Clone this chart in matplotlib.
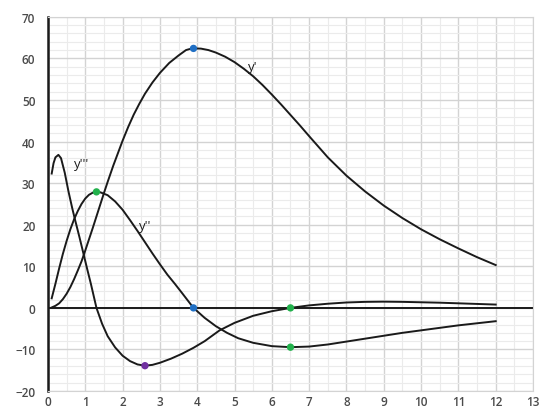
import matplotlib.pyplot as plt
from matplotlib.ticker import MultipleLocator

# values
x1 = [0.1, 0.2, 0.3, 0.4, 0.5, 0.6, 0.7, 0.8, 0.9, 1.0, 1.1, 1.2, 1.3, 1.4,
      1.5, 1.6, 1.75, 1.9, 2.0, 2.15, 2.3, 2.45, 2.6, 2.8, 3.0, 3.25, 3.5,
      3.7, 3.8, 3.9, 4.1, 4.3, 4.5, 4.75, 5.0, 5.25, 5.5, 5.75, 6.0, 6.25,
      6.5, 6.75, 7.0, 7.5, 8.0, 8.5, 9.0, 9.5, 10.0, 10.5, 11.0, 11.5, 12.0]
y1 = [0.1, 0.5, 1.1, 2.1, 3.4, 5.0, 6.9, 9.0, 11.2, 13.8, 16.5, 19.2, 22.0,
      24.8, 27.6, 30.3, 34.2, 37.8, 40.2, 43.5, 46.5, 49.1, 51.5, 54.2, 56.5,
      58.9, 60.7, 62.0, 62.25, 62.4, 62.35, 62.0, 61.4, 60.4, 59.1, 57.5,
      55.7, 53.6, 51.3, 48.9, 46.4, 43.9, 41.3, 36.2, 31.8, 28.0, 24.6, 21.6,
      18.9, 16.5, 14.3, 12.2, 10.3]

x2 = [0.1, 0.2, 0.3, 0.4, 0.5, 0.6, 0.7, 0.8, 0.9, 1.0, 1.1, 1.2, 1.3, 1.4,
      1.6, 1.8, 2.0, 2.2, 2.4, 2.6, 2.8, 3.0, 3.2, 3.4, 3.6, 3.9, 4.2, 4.5,
      4.8, 5.1, 5.5, 6.0, 6.5, 7.0, 7.5, 8.0, 8.5, 9.0, 9.5, 10.0, 10.5, 11.0,
      11.5, 12.0]
y2 = [2.3, 5.8, 9.5, 13.0, 16.1, 18.9, 21.3, 23.3, 25.0, 26.3, 27.2, 27.7,
      27.9, 27.8, 27.1, 25.6, 23.6, 21.1, 18.5, 15.8, 13.1, 10.5, 8.0, 5.8,
      3.5, 0.0, -2.4, -4.4, -6.0, -7.3, -8.4, -9.2, -9.45, -9.3, -8.8, -8.1,
      -7.4, -6.7, -6.0, -5.4, -4.8, -4.2, -3.7, -3.2]

x3 = [0.1, 0.15, 0.2, 0.28, 0.35, 0.45, 0.55, 0.65, 0.72, 0.85, 0.95, 1.05,
      1.15, 1.3, 1.45, 1.6, 1.8, 2.0, 2.2, 2.4, 2.6, 2.8, 3.0, 3.3, 3.6, 3.9,
      4.2, 4.6, 5.0, 5.5, 6.0, 6.5, 7.0, 7.5, 8.0, 8.5, 9.0, 9.5, 10.0, 10.5,
      11.0, 11.5, 12.0]
y3 = [32.3, 34.8, 36.2, 36.8, 36.0, 32.5, 28.0, 24.0, 21.4, 16.8, 13.1, 9.4,
      5.8, 0.0, -3.8, -6.8, -9.5, -11.5, -12.8, -13.6, -13.9, -13.7, -13.2,
      -12.2, -11.0, -9.6, -8.0, -5.4, -3.6, -1.9, -0.8, 0.0, 0.6, 1.0, 1.3,
      1.45, 1.5, 1.45, 1.35, 1.25, 1.1, 0.95, 0.8]

# highlighted points
pt_x = [3.9, 3.9, 1.3, 6.5, 6.5, 2.6]
pt_y = [62.4, 0.0, 27.9, 0.0, -9.45, -13.9]
pt_c = ['#1f6fc4', '#1f6fc4', '#22b14c', '#22b14c', '#22b14c', '#7030a0']

labels = ["y'", "y''", "y'''"]
label_x = [5.5, 2.6, 0.9]
label_y = [58.0, 19.8, 34.7]

fig = plt.figure(figsize=(5.45, 4.14), dpi=100)
ax = fig.add_axes([0.088, 0.053, 0.89, 0.904])

line_kw = dict(color='#1a1a1a', lw=1.4, zorder=3, solid_joinstyle='round')
ax.plot(x1, y1, **line_kw)
ax.plot(x2, y2, **line_kw)
ax.plot(x3, y3, **line_kw)
ax.axhline(0, color='#1a1a1a', lw=1.4, zorder=2)

ax.scatter(pt_x, pt_y, c=pt_c, s=28, zorder=4, edgecolors='none')

for t, lx, ly in zip(labels, label_x, label_y):
    ax.text(lx, ly, t, fontsize=9.5, color='#1a1a1a', ha='center', va='center',
            family='Open Sans')

ax.set_xlim(0, 13)
ax.set_ylim(-20, 70)
ax.xaxis.set_major_locator(MultipleLocator(1))
ax.xaxis.set_minor_locator(MultipleLocator(0.5))
ax.yaxis.set_major_locator(MultipleLocator(10))
ax.yaxis.set_minor_locator(MultipleLocator(2))
ax.grid(which='major', color='#d3d3d3', lw=1.0, zorder=0)
ax.grid(which='minor', color='#ebebeb', lw=0.8, zorder=0)
ax.set_axisbelow(True)

ax.tick_params(which='both', length=0)
ax.tick_params(labelsize=8.5, labelcolor='#4a4a4a')
ax.tick_params(axis='y', pad=9)
ax.tick_params(axis='x', pad=3)
for lab in ax.get_xticklabels() + ax.get_yticklabels():
    lab.set_family('Open Sans')
    lab.set_fontweight('semibold')

for s in ['top', 'right', 'bottom']:
    ax.spines[s].set_color('#d3d3d3')
ax.spines['left'].set_color('#1a1a1a')
ax.spines['left'].set_linewidth(1.8)

fig.savefig('out.png', dpi=100)
